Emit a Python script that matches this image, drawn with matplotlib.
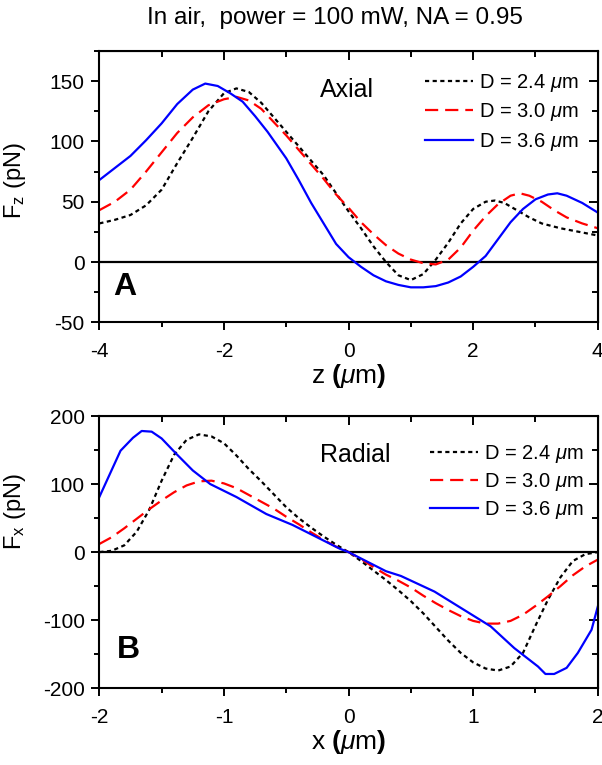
import numpy as np
import matplotlib
matplotlib.use('Agg')
import matplotlib.pyplot as plt
from matplotlib.ticker import MultipleLocator

plt.rcParams['font.family'] = ['Liberation Sans', 'DejaVu Sans']
plt.rcParams['mathtext.fontset'] = 'custom'
plt.rcParams['mathtext.rm'] = 'Liberation Sans'
plt.rcParams['mathtext.it'] = 'Liberation Sans:italic'
plt.rcParams['mathtext.bf'] = 'Liberation Sans:bold'
plt.rcParams['lines.scale_dashes'] = False
plt.rcParams['axes.unicode_minus'] = False

# axial force, top panel
z_24 = [-4, -3.75, -3.5, -3.25, -3.0, -2.75, -2.5, -2.25, -2.0, -1.8, -1.6, -1.4, -1.2, -1.0,
        -0.8, -0.6, -0.4, -0.2, 0.0, 0.2, 0.4, 0.6, 0.8, 1.0, 1.2, 1.4, 1.6, 1.8, 2.0,
        2.2, 2.35, 2.5, 2.7, 2.9, 3.1, 3.4, 3.7, 4.0]
fz_24 = [32, 35, 39, 47, 60, 82, 103, 125, 140, 144, 141, 132, 120, 108,
         96, 84, 72, 57, 42, 28, 13, 0, -11, -15, -10, 2, 16, 32, 44,
         50, 51, 49, 43, 37, 32, 28, 25, 22]
z_30 = [-4, -3.75, -3.5, -3.25, -3.0, -2.75, -2.5, -2.25, -2.0, -1.8, -1.6, -1.4, -1.2, -1.0,
        -0.8, -0.6, -0.4, -0.2, 0.0, 0.2, 0.4, 0.6, 0.8, 1.0, 1.2, 1.4, 1.6, 1.8, 2.0,
        2.2, 2.4, 2.6, 2.75, 2.9, 3.1, 3.3, 3.5, 3.75, 4.0]
fz_30 = [43, 50, 60, 75, 91, 107, 120, 130, 135, 137, 134, 127, 116, 105,
         93, 81, 69, 56, 45, 33, 23, 14, 7, 2, -1, -2, 2, 12, 26,
         38, 48, 55, 57, 55, 50, 43, 37, 32, 28]
z_36 = [-4, -3.75, -3.5, -3.25, -3.0, -2.75, -2.5, -2.3, -2.1, -1.9, -1.7, -1.5, -1.3, -1.0,
        -0.8, -0.6, -0.4, -0.2, 0.0, 0.2, 0.4, 0.6, 0.8, 1.0, 1.2, 1.4, 1.6, 1.8, 2.0,
        2.2, 2.4, 2.6, 2.8, 3.0, 3.2, 3.35, 3.5, 3.75, 4.0]
fz_36 = [68, 78, 88, 101, 115, 131, 143, 148, 146, 140, 133, 121, 108, 86,
         68, 49, 32, 15, 4, -4, -11, -16, -19, -21, -21, -20, -17, -12, -4,
         5, 19, 33, 44, 52, 56, 57, 55, 49, 41]

# radial force, bottom panel
x_24 = [-2, -1.9, -1.8, -1.7, -1.6, -1.5, -1.4, -1.3, -1.2, -1.1, -1.0, -0.9, -0.8, -0.7,
        -0.6, -0.5, -0.4, -0.3, -0.2, -0.1, 0.0, 0.1, 0.2, 0.3, 0.4, 0.5, 0.6, 0.7, 0.8,
        0.9, 1.0, 1.1, 1.2, 1.3, 1.4, 1.5, 1.6, 1.7, 1.8, 1.9, 2.0]
fx_24 = [0, 2, 10, 30, 62, 105, 143, 165, 173, 170, 160, 142, 122, 104,
         85, 66, 50, 36, 23, 11, 0, -13, -27, -41, -56, -72, -90, -110, -130,
         -148, -162, -171, -174, -168, -148, -108, -70, -37, -13, -3, 0]
x_30 = [-2, -1.9, -1.8, -1.7, -1.6, -1.5, -1.4, -1.3, -1.2, -1.1, -1.0, -0.9, -0.8, -0.7,
        -0.6, -0.5, -0.4, -0.3, -0.2, -0.1, 0.0, 0.1, 0.2, 0.3, 0.4, 0.5, 0.6, 0.7, 0.8,
        0.9, 1.0, 1.1, 1.2, 1.3, 1.4, 1.5, 1.6, 1.7, 1.8, 1.9, 2.0]
fx_30 = [12, 22, 35, 49, 63, 76, 88, 98, 104, 105, 101, 94, 84, 74,
         64, 52, 41, 29, 18, 8, 0, -10, -22, -33, -42, -52, -64, -75, -85,
         -94, -101, -105, -105, -101, -92, -79, -65, -50, -34, -21, -11]
x_36 = [-2, -1.83, -1.73, -1.66, -1.58, -1.5, -1.38, -1.25, -1.11, -0.9, -0.66, -0.45, -0.07,
        0.0, 0.3, 0.42, 0.69, 1.14, 1.33, 1.52, 1.58, 1.65, 1.75, 1.84, 1.95, 2.0]
fx_36 = [81, 149, 168, 178, 177, 167, 144, 120, 100, 81, 56, 40, 5,
         0, -28, -35, -58, -109, -141, -168, -179, -179, -170, -148, -114, -80]

labels = [r'D = 2.4 $\mathit{\mu}$m', r'D = 3.0 $\mathit{\mu}$m', r'D = 3.6 $\mathit{\mu}$m']
dot = (0, (3, 2.5))
dash = (0, (9.5, 5))

fig = plt.figure(figsize=(6.02, 7.65), dpi=100)
ax1 = fig.add_axes([0.165, 0.5787, 0.828, 0.3546])
ax2 = fig.add_axes([0.165, 0.1003, 0.828, 0.3559])

fig.text(0.557, 0.9765, 'In air,  power = 100 mW, NA = 0.95', ha='center', va='center', fontsize=17.5)


def style(ax, xmaj, xmin, ymaj, ymin):
    for s in ax.spines.values():
        s.set_linewidth(1.5)
    ax.xaxis.set_major_locator(MultipleLocator(xmaj))
    ax.xaxis.set_minor_locator(MultipleLocator(xmin))
    ax.yaxis.set_major_locator(MultipleLocator(ymaj))
    ax.yaxis.set_minor_locator(MultipleLocator(ymin))
    ax.tick_params(which='both', direction='out', width=1.4, labelsize=15)
    ax.tick_params(which='major', length=6)
    ax.tick_params(which='minor', length=3.5)
    ax.tick_params(axis='x', which='major', pad=8)
    ax.tick_params(axis='y', which='major', pad=4.5)
    top = ax.secondary_xaxis('top')
    top.xaxis.set_major_locator(MultipleLocator(xmaj))
    top.xaxis.set_minor_locator(MultipleLocator(xmin))
    top.tick_params(which='both', direction='in', width=1.4, labeltop=False)
    top.tick_params(which='major', length=6.5)
    top.tick_params(which='minor', length=4)
    right = ax.secondary_yaxis('right')
    right.yaxis.set_major_locator(MultipleLocator(ymaj))
    right.yaxis.set_minor_locator(MultipleLocator(ymin))
    right.tick_params(which='both', direction='in', width=1.4, labelright=False)
    right.tick_params(which='major', length=6.5)
    right.tick_params(which='minor', length=4)
    ax.axhline(0, color='black', lw=1.6, zorder=1)


ax1.plot(z_24, fz_24, color='black', lw=1.6, ls=dot, label=labels[0])
ax1.plot(z_30, fz_30, color='red', lw=1.6, ls=dash, label=labels[1])
ax1.plot(z_36, fz_36, color='blue', lw=1.6, label=labels[2])
ax1.set_xlim(-4, 4)
ax1.set_ylim(-50, 175)
style(ax1, 2, 1, 50, 25)
ax1.set_xlabel(r'z $\mathbf{(}\mathit{\mu}$m$\mathbf{)}$', fontsize=19, labelpad=1)
ax1.set_ylabel(r'F$_\mathrm{z}$ (pN)', fontsize=17)
ax1.yaxis.set_label_coords(-0.143, 0.524)
ax1.text(-0.46, 143, 'Axial', fontsize=18, va='center')
ax1.text(-3.59, -21, 'A', fontsize=23, fontweight='bold', ha='center', va='center')
ax1.legend(loc='upper right', bbox_to_anchor=(0.962, 0.922), frameon=False, fontsize=14.5,
           handlelength=2.4, handletextpad=0.3, labelspacing=0.36, borderpad=0, borderaxespad=0)

ax2.plot(x_24, fx_24, color='black', lw=1.6, ls=dot, label=labels[0])
ax2.plot(x_30, fx_30, color='red', lw=1.6, ls=dash, label=labels[1])
ax2.plot(x_36, fx_36, color='blue', lw=1.6, label=labels[2])
ax2.set_xlim(-2, 2)
ax2.set_ylim(-200, 200)
style(ax2, 1, 0.5, 100, 50)
ax2.set_xlabel(r'x $\mathbf{(}\mathit{\mu}$m$\mathbf{)}$', fontsize=19, labelpad=1)
ax2.set_ylabel(r'F$_\mathrm{x}$ (pN)', fontsize=17)
ax2.yaxis.set_label_coords(-0.143, 0.647)
ax2.text(-0.23, 143, 'Radial', fontsize=18, va='center')
ax2.text(-1.77, -144, 'B', fontsize=23, fontweight='bold', ha='center', va='center')
ax2.legend(loc='upper right', bbox_to_anchor=(0.972, 0.9), frameon=False, fontsize=14.5,
           handlelength=2.4, handletextpad=0.3, labelspacing=0.3, borderpad=0, borderaxespad=0)

fig.savefig('out.png', dpi=100)
